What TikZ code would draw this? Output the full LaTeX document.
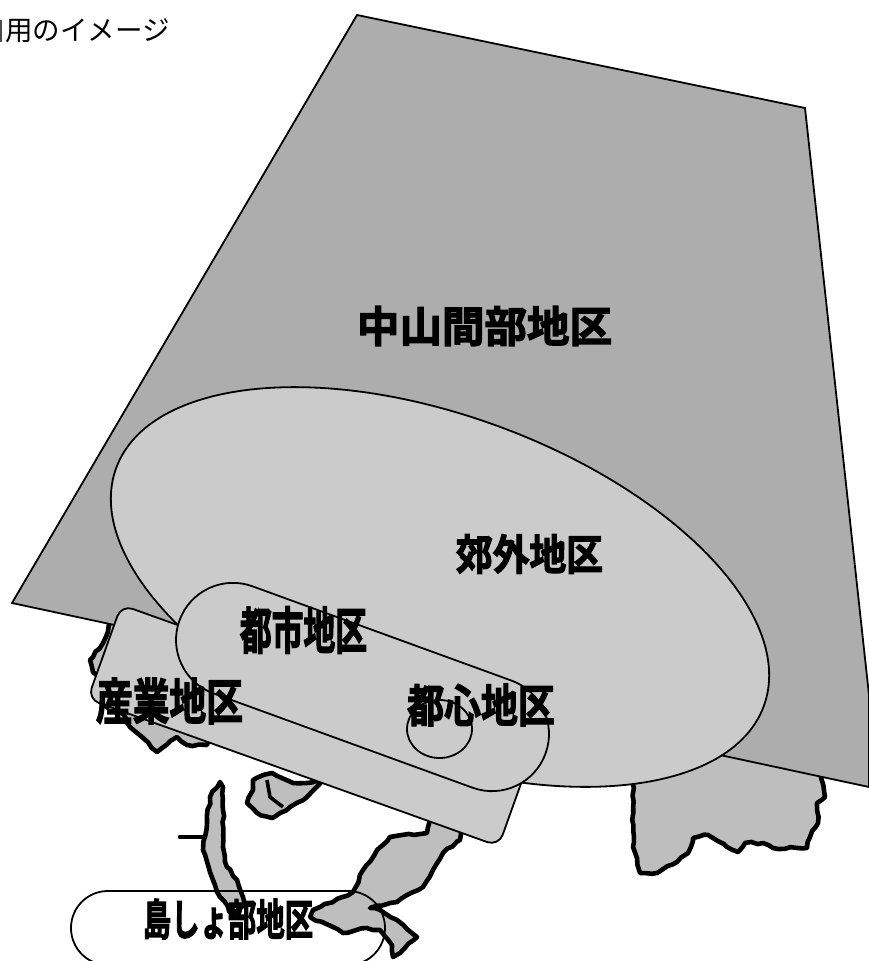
\documentclass[tikz,border=0pt]{standalone}
\usepackage{fontspec}
\usetikzlibrary{decorations.pathmorphing}
\newfontfamily\cjk{Noto Sans CJK JP}
\newfontfamily\cjkb{Noto Sans CJK JP Bold}[FakeBold=3]
\definecolor{hill}{HTML}{ADADAD}
\definecolor{zone}{HTML}{CBCBCB}
\definecolor{land}{HTML}{BEBEBE}
\tikzset{
  mapland/.style={draw=black,fill=land,line width=4.6pt,line join=round,line cap=round,decorate,decoration={random steps,segment length=6pt,amplitude=1.1pt}},
  zoneline/.style={draw=black,line width=1.8pt},
  lab/.style={inner sep=0pt,font=\cjkb,text=black},
}
\pgfmathsetseed{7}
\begin{document}
\begin{tikzpicture}[x=1pt,y=-1pt]
\useasboundingbox (0,0) rectangle (869,961);
\clip (0,0) rectangle (869,961);
% map
\path[mapland] (633,750)--(633,783)--(633,847)--(640,873)--(657,873)--(677,862)--(688,853)--(693,838)--(708,835)--(727,847)--(738,852)--(745,843)--(763,843)--(773,848)--(807,848)--(810,837)--(818,823)--(817,803)--(825,797)--(820,773)--(820,750)--cycle;
\path[mapland] (430,810)--(427,833)--(390,837)--(377,850)--(363,870)--(353,892)--(313,910)--(310,917)--(333,927)--(343,933)--(367,928)--(380,930)--(392,945)--(393,957)--(400,953)--(417,937)--(397,920)--(380,910)--(370,908)--(390,903)--(397,902)--(423,887)--(433,870)--(443,853)--(460,840)--(463,830)--cycle;
\path[mapland] (220,782)--(210,797)--(207,823)--(203,850)--(213,880)--(220,897)--(233,915)--(245,905)--(243,897)--(237,880)--(227,867)--(223,847)--(223,787)--cycle;
\draw[line width=4.6pt,line cap=round] (180,837)--(205,837);
\path[mapland] (253,780)--(272,773)--(293,783)--(307,783)--(325,778)--(307,797)--(290,807)--(272,818)--(257,813)--(247,803)--(253,790)--cycle;
\draw[line width=3.6pt,line join=round] (267,780)--(270,797)--(283,807);
\path[mapland] (112,620)--(103,643)--(90,660)--(93,672)--(110,690)--(130,727)--(157,752)--(177,737)--(187,745)--(207,745)--(215,720)--cycle;
% hill area
\path[fill=hill,zoneline] (357,15)--(805,108)--(869,695)--(869,787)--(12,603)--cycle;
% zones
\node[zoneline,fill=zone,rounded corners=12pt,rotate=-19.7,minimum width=436.5pt,minimum height=100pt,inner sep=0pt] (industry) at (310,725.5) {};
\path[fill=zone,zoneline] (440,587) ellipse [x radius=345,y radius=171,rotate=-20.2];
\node[zoneline,fill=zone,rounded corners=56.9pt,rotate=-20,minimum width=389.5pt,minimum height=114pt,inner sep=0pt] (urban) at (362.5,687) {};
\path[zoneline] (439.5,729) ellipse [x radius=32.5,y radius=29];
\node[zoneline,rounded corners=36.9pt,minimum width=314pt,minimum height=74pt,inner sep=0pt] (island) at (228,928) {};
% labels
\node[lab,font=\cjkb\fontsize{42.5}{44}\selectfont] (t1) at (484.5,326) {中山間部地区};
\node[lab,font=\cjkb\fontsize{42}{44}\selectfont,xscale=.875] (t2) at (529.5,554) {郊外地区};
\node[lab,font=\cjkb\fontsize{50}{52}\selectfont,xscale=.635] (t3) at (303.5,630) {都市地区};
\node[lab,font=\cjkb\fontsize{49}{52}\selectfont,xscale=.75] (t4) at (169.5,701) {産業地区};
\node[lab,font=\cjkb\fontsize{45}{47}\selectfont,xscale=.82] (t5) at (481,705) {都心地区};
\node[lab,font=\cjkb\fontsize{43}{45}\selectfont,xscale=.66] (t6) at (228,919) {島しょ部地区};
\node[inner sep=0pt,font=\cjk\fontsize{27.5}{29}\selectfont] (t7) at (87.5,31) {用のイメージ};
\fill[black!70] (0,20) rectangle (1.6,42);
\end{tikzpicture}
\end{document}
